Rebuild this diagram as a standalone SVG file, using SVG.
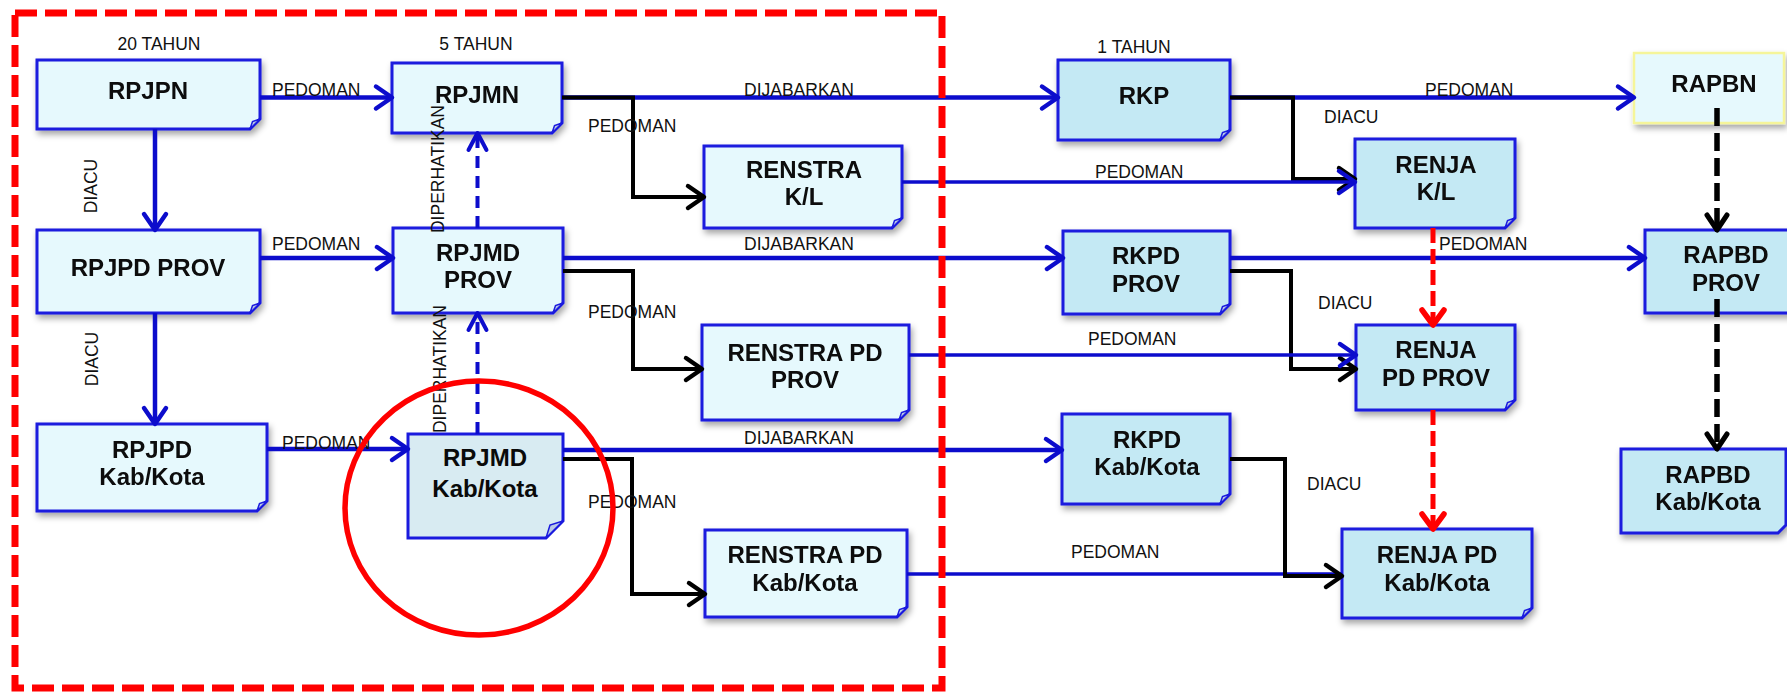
<svg xmlns="http://www.w3.org/2000/svg" width="1787" height="692" viewBox="0 0 1787 692">
<style>
.box{stroke:#1a1ade;stroke-width:3;stroke-linejoin:miter}
.lt{fill:#e6f9fd}
.md{fill:#c4e9f4}
.gb{fill:#d8ebf2}
.fold{fill:#b9c9e6;stroke:#1a1ade;stroke-width:1.5}
.nt{font-family:"Liberation Sans",Arial,sans-serif;font-weight:bold;font-size:24px;fill:#0a0a0a;text-anchor:middle}
.lb{font-family:"Liberation Sans",Arial,sans-serif;font-size:17.5px;fill:#111}
.mid{text-anchor:middle}
.bl{fill:none;stroke:#0c0ccc;stroke-width:4.5}
.bl2{fill:none;stroke:#0c0ccc;stroke-width:3.5}
.bk{fill:none;stroke:#000;stroke-width:4;stroke-linejoin:miter}
.bd{fill:none;stroke:#0c0ccc;stroke-width:4;stroke-dasharray:12 8}
.rd{fill:none;stroke:#ff0000;stroke-width:5;stroke-dasharray:15 6}
.kd{fill:none;stroke:#000;stroke-width:5.5;stroke-dasharray:18 7}
</style>
<defs>
<filter id="sh" x="-10%" y="-10%" width="130%" height="140%">
<feDropShadow dx="2" dy="4" stdDeviation="3" flood-color="#000" flood-opacity="0.35"/>
</filter>
<marker id="aB" markerUnits="userSpaceOnUse" markerWidth="40" markerHeight="40" viewBox="-20 -20 40 40" refX="0" refY="0" orient="auto">
<path d="M-16,-11L0,0L-16,11" fill="none" stroke="#0c0ccc" stroke-width="4.5" stroke-linecap="round" stroke-linejoin="round"/>
</marker>
<marker id="aK" markerUnits="userSpaceOnUse" markerWidth="40" markerHeight="40" viewBox="-20 -20 40 40" refX="0" refY="0" orient="auto">
<path d="M-16,-11L0,0L-16,11" fill="none" stroke="#000" stroke-width="4.5" stroke-linecap="round" stroke-linejoin="round"/>
</marker>
<marker id="aR" markerUnits="userSpaceOnUse" markerWidth="40" markerHeight="40" viewBox="-20 -20 40 40" refX="0" refY="0" orient="auto">
<path d="M-15,-11L0,0L-15,11" fill="none" stroke="#ff0000" stroke-width="5.5" stroke-linecap="round" stroke-linejoin="round"/>
</marker>
<marker id="aKd" markerUnits="userSpaceOnUse" markerWidth="40" markerHeight="40" viewBox="-20 -20 40 40" refX="0" refY="0" orient="auto">
<path d="M-15,-10L0,0L-15,10" fill="none" stroke="#000" stroke-width="5" stroke-linecap="round" stroke-linejoin="round"/>
</marker>
<marker id="aBd" markerUnits="userSpaceOnUse" markerWidth="40" markerHeight="40" viewBox="-20 -20 40 40" refX="0" refY="0" orient="auto">
<path d="M-17,-9L0,0L-17,9" fill="none" stroke="#0c0ccc" stroke-width="4" stroke-linecap="round" stroke-linejoin="round"/>
</marker>
</defs>
<rect width="1787" height="692" fill="#fff"/>

<g id="nodes">
<g id="rpjpn" filter="url(#sh)">
<path class="box lt" d="M37,60H260V119L250,129H37Z"/>
<path class="fold" d="M260,119L250,129L252.5,121.5Z"/>
<text class="nt" x="148" y="99">RPJPN</text>
</g>
<g id="rpjmn" filter="url(#sh)">
<path class="box lt" d="M392,63H562V123L552,133H392Z"/>
<path class="fold" d="M562,123L552,133L554.5,125.5Z"/>
<text class="nt" x="477" y="103">RPJMN</text>
</g>
<g id="rpjpd-prov" filter="url(#sh)">
<path class="box lt" d="M37,230H260V303L250,313H37Z"/>
<path class="fold" d="M260,303L250,313L252.5,305.5Z"/>
<text class="nt" x="148" y="276">RPJPD PROV</text>
</g>
<g id="rpjmd-prov" filter="url(#sh)">
<path class="box lt" d="M393,228H563V303L553,313H393Z"/>
<path class="fold" d="M563,303L553,313L555.5,305.5Z"/>
<text class="nt" x="478" y="261">RPJMD</text>
<text class="nt" x="478" y="288">PROV</text>
</g>
<g id="rpjpd-kab" filter="url(#sh)">
<path class="box lt" d="M37,424H267V501L257,511H37Z"/>
<path class="fold" d="M267,501L257,511L259.5,503.5Z"/>
<text class="nt" x="152" y="458">RPJPD</text>
<text class="nt" x="152" y="485">Kab/Kota</text>
</g>
<g id="rpjmd-kab">
<path class="box gb" d="M408,434H563V521L546,538H408Z"/>
<path class="fold" d="M563,521L546,538L550,525Z"/>
<text class="nt" x="485" y="466">RPJMD</text>
<text class="nt" x="485" y="497">Kab/Kota</text>
</g>
<g id="renstra-kl" filter="url(#sh)">
<path class="box lt" d="M704,146H902V218L892,228H704Z"/>
<path class="fold" d="M902,218L892,228L894.5,220.5Z"/>
<text class="nt" x="804" y="178">RENSTRA</text>
<text class="nt" x="804" y="205">K/L</text>
</g>
<g id="renstra-pd-prov" filter="url(#sh)">
<path class="box lt" d="M702,325H909V410L899,420H702Z"/>
<path class="fold" d="M909,410L899,420L901.5,412.5Z"/>
<text class="nt" x="805" y="361">RENSTRA PD</text>
<text class="nt" x="805" y="388">PROV</text>
</g>
<g id="renstra-pd-kab" filter="url(#sh)">
<path class="box lt" d="M705,530H907V607L897,617H705Z"/>
<path class="fold" d="M907,607L897,617L899.5,609.5Z"/>
<text class="nt" x="805" y="563">RENSTRA PD</text>
<text class="nt" x="805" y="591">Kab/Kota</text>
</g>
<g id="rkp" filter="url(#sh)">
<path class="box md" d="M1058,60H1230V130L1220,140H1058Z"/>
<path class="fold" d="M1230,130L1220,140L1222.5,132.5Z"/>
<text class="nt" x="1144" y="104">RKP</text>
</g>
<g id="rapbn" filter="url(#sh)">
<path d="M1634,53H1784V123H1634Z" fill="#e6f9fd" stroke="#f5f59a" stroke-width="2.5"/>
<text class="nt" x="1714" y="92">RAPBN</text>
</g>
<g id="renja-kl" filter="url(#sh)">
<path class="box md" d="M1355,139H1515V218L1505,228H1355Z"/>
<path class="fold" d="M1515,218L1505,228L1507.5,220.5Z"/>
<text class="nt" x="1436" y="173">RENJA</text>
<text class="nt" x="1436" y="200">K/L</text>
</g>
<g id="rkpd-prov" filter="url(#sh)">
<path class="box md" d="M1063,231H1230V304L1220,314H1063Z"/>
<path class="fold" d="M1230,304L1220,314L1222.5,306.5Z"/>
<text class="nt" x="1146" y="264">RKPD</text>
<text class="nt" x="1146" y="292">PROV</text>
</g>
<g id="rapbd-prov" filter="url(#sh)">
<path class="box md" d="M1645,230H1795V313H1645Z"/>
<text class="nt" x="1726" y="263">RAPBD</text>
<text class="nt" x="1726" y="291">PROV</text>
</g>
<g id="renja-pd-prov" filter="url(#sh)">
<path class="box md" d="M1356,325H1515V400L1505,410H1356Z"/>
<path class="fold" d="M1515,400L1505,410L1507.5,402.5Z"/>
<text class="nt" x="1436" y="358">RENJA</text>
<text class="nt" x="1436" y="386">PD PROV</text>
</g>
<g id="rkpd-kab" filter="url(#sh)">
<path class="box md" d="M1062,414H1230V494L1220,504H1062Z"/>
<path class="fold" d="M1230,494L1220,504L1222.5,496.5Z"/>
<text class="nt" x="1147" y="448">RKPD</text>
<text class="nt" x="1147" y="475">Kab/Kota</text>
</g>
<g id="renja-pd-kab" filter="url(#sh)">
<path class="box md" d="M1342,529H1532V608L1522,618H1342Z"/>
<path class="fold" d="M1532,608L1522,618L1524.5,610.5Z"/>
<text class="nt" x="1437" y="563">RENJA PD</text>
<text class="nt" x="1437" y="591">Kab/Kota</text>
</g>
<g id="rapbd-kab" filter="url(#sh)">
<path class="box md" d="M1621,449H1786V525L1778,533H1621Z"/>
<text class="nt" x="1708" y="483">RAPBD</text>
<text class="nt" x="1708" y="510">Kab/Kota</text>
</g>
</g>

<g id="connectors">
<path class="bl" d="M260,97.5H392" marker-end="url(#aB)"/>
<path class="bl" d="M155,129V230" marker-end="url(#aB)"/>
<path class="bl" d="M260,258H393" marker-end="url(#aB)"/>
<path class="bl" d="M155,313V424" marker-end="url(#aB)"/>
<path class="bl" d="M267,449H408" marker-end="url(#aB)"/>
<path class="bl" d="M562,97.5H1058" marker-end="url(#aB)"/>
<path class="bl" d="M563,258H1063" marker-end="url(#aB)"/>
<path class="bl" d="M563,450H1062" marker-end="url(#aB)"/>
<path class="bl" d="M1230,97.5H1634" marker-end="url(#aB)"/>
<path class="bl" d="M1230,258H1645" marker-end="url(#aB)"/>
<path class="bk" d="M562,97.5H633V197H704" marker-end="url(#aK)"/>
<path class="bk" d="M563,271H633V369H702" marker-end="url(#aK)"/>
<path class="bk" d="M563,459H632V594H705" marker-end="url(#aK)"/>
<path class="bk" d="M1230,97.5H1293V179H1355" marker-end="url(#aK)"/>
<path class="bl2" d="M902,182H1355" marker-end="url(#aB)"/>
<path class="bk" d="M1230,271H1291V369H1356" marker-end="url(#aK)"/>
<path class="bl2" d="M909,355H1356" marker-end="url(#aB)"/>
<path class="bl2" d="M907,574H1342"/>
<path class="bk" d="M1230,459H1285V576H1342" marker-end="url(#aK)"/>
<path class="bd" d="M477.5,228V133" marker-end="url(#aBd)"/>
<path class="bd" d="M477.5,434V313" marker-end="url(#aBd)"/>
<path class="rd" d="M1433,228V325" marker-end="url(#aR)"/>
<path class="rd" d="M1433,410V529" marker-end="url(#aR)"/>
<path class="kd" d="M1717,108V230" marker-end="url(#aKd)"/>
<path class="kd" d="M1717,299V449" marker-end="url(#aKd)"/>
</g>

<g id="labels">
<text class="lb mid" x="159" y="50">20 TAHUN</text>
<text class="lb mid" x="476" y="50">5 TAHUN</text>
<text class="lb mid" x="1134" y="53">1 TAHUN</text>
<text class="lb" x="272" y="96">PEDOMAN</text>
<text class="lb" x="272" y="250">PEDOMAN</text>
<text class="lb" x="282" y="449">PEDOMAN</text>
<text class="lb mid" transform="translate(97,186) rotate(-90)">DIACU</text>
<text class="lb mid" transform="translate(98,359) rotate(-90)">DIACU</text>
<text class="lb mid" transform="translate(444,169) rotate(-90)">DIPERHATIKAN</text>
<text class="lb mid" transform="translate(446,369) rotate(-90)">DIPERHATIKAN</text>
<text class="lb" x="744" y="96">DIJABARKAN</text>
<text class="lb" x="744" y="250">DIJABARKAN</text>
<text class="lb" x="744" y="444">DIJABARKAN</text>
<text class="lb" x="588" y="132">PEDOMAN</text>
<text class="lb" x="588" y="318">PEDOMAN</text>
<text class="lb" x="588" y="508">PEDOMAN</text>
<text class="lb" x="1095" y="178">PEDOMAN</text>
<text class="lb" x="1425" y="96">PEDOMAN</text>
<text class="lb" x="1324" y="123">DIACU</text>
<text class="lb" x="1439" y="250">PEDOMAN</text>
<text class="lb" x="1318" y="309">DIACU</text>
<text class="lb" x="1088" y="345">PEDOMAN</text>
<text class="lb" x="1307" y="490">DIACU</text>
<text class="lb" x="1071" y="558">PEDOMAN</text>
</g>

<g id="highlight">
<rect x="15" y="13" width="927" height="675" fill="none" stroke="#ff0000" stroke-width="7" stroke-dasharray="22 8"/>
<ellipse cx="479" cy="508" rx="134" ry="127" fill="none" stroke="#ff0000" stroke-width="5.5"/>
</g>
</svg>
